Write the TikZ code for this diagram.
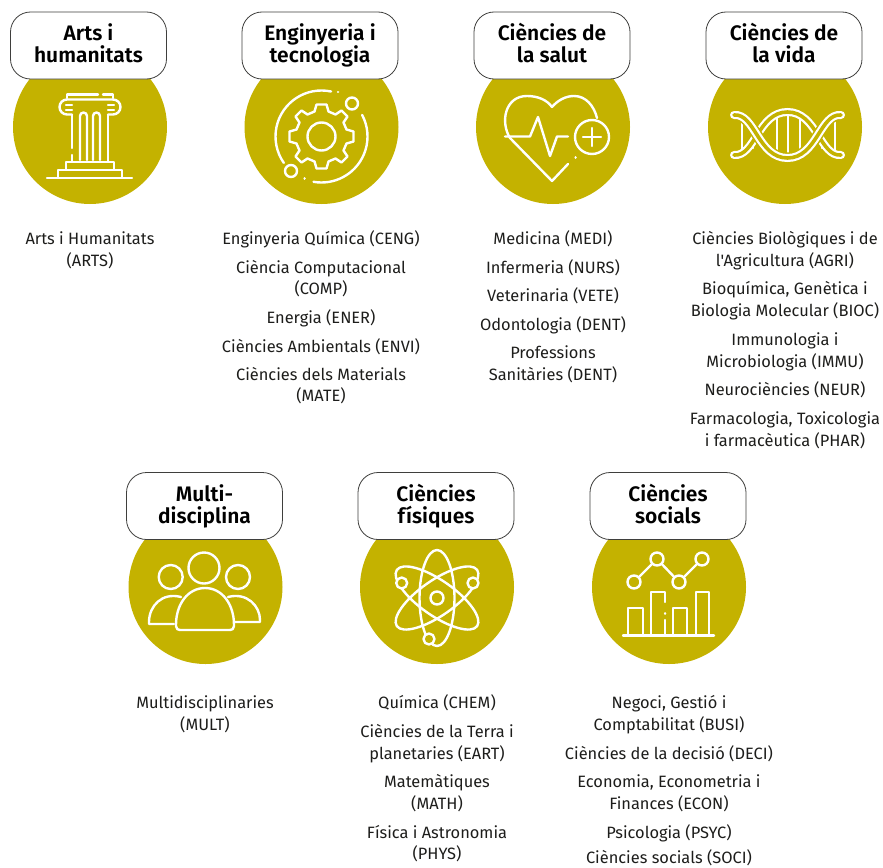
\documentclass[tikz,border=0pt]{standalone}
\usepackage{fontspec}
\setmainfont{Fira Sans}[Ligatures=TeXOff,BoldFont={Fira Sans SemiBold}]
\definecolor{gold}{HTML}{C4B200}
\definecolor{inkc}{HTML}{1D1D1B}
\newcommand\lineone[1]{\strut #1}
\newcommand\linetwo[2]{\strut #1\\\strut #2}
\newcommand\headtwo[2]{\rule{0pt}{18pt}#1\\#2\rule[-5.6pt]{0pt}{5.6pt}}
\tikzset{
 x=1pt,y=-1pt,
 disc/.style={circle,fill=gold,draw=none,minimum size=154pt,inner sep=0pt},
 headbox/.style={rounded corners=20pt,draw=inkc!85,line width=0.8pt,fill=white,minimum width=156pt,minimum height=67pt,align=center,inner sep=0pt,font=\fontsize{21}{22}\selectfont\bfseries,text=black},
 item/.style={align=center,inner sep=0pt,yshift=-2pt,font=\fontsize{16.4}{21.5}\selectfont,text=inkc},
 ico/.style={draw=white,line width=2.4pt,line cap=round,line join=round},
}
\begin{document}
\begin{tikzpicture}
\useasboundingbox (0,0) rectangle (883,867);
% discs
\node[disc] (d1) at (90,127) {};
\node[disc] (d2) at (321.5,127) {};
\node[disc] (d3) at (553,127) {};
\node[disc] (d4) at (785,127) {};
\node[disc] (d5) at (205.5,587) {};
\node[disc] (d6) at (437,587) {};
\node[disc] (d7) at (669,587) {};
% headings
\node[headbox] (h1) at (88.5,45.5) {\headtwo{Arts i}{humanitats}};
\node[headbox] (h2) at (320,45.5) {\headtwo{Enginyeria i}{tecnologia}};
\node[headbox] (h3) at (552,45.5) {\headtwo{Ciències de}{la salut}};
\node[headbox] (h4) at (784,45.5) {\headtwo{Ciències de}{la vida}};
\node[headbox] (h5) at (204.5,506) {\headtwo{Multi-}{disciplina}};
\node[headbox] (h6) at (436,506) {\headtwo{Ciències}{físiques}};
\node[headbox] (h7) at (668,506) {\headtwo{Ciències}{socials}};
% column icon
\draw[ico] (67,98)--(67,94.5)--(98,94.5) (103,94.5)--(113,94.5)--(113,98);
\draw[ico] (113,99.5)--(67,99.5) arc[start angle=270,end angle=90,radius=7.5]--(72,114.5);
\draw[ico] (66,105)--(72,105) (72,110)--(66,110);
\draw[ico] (113,99.5) arc[start angle=270,end angle=450,radius=7.5]--(108,114.5);
\draw[ico] (114,105)--(108,105) (108,110)--(114,110);
\draw[ico] (72,115)--(72,148) (72,155)--(72,161.5);
\draw[ico] (108,115)--(108,161.5);
\draw[ico] (80,160)--(80,116) arc[start angle=180,end angle=360,radius=3.5]--(87,160);
\draw[ico] (93,160)--(93,116) arc[start angle=180,end angle=360,radius=3.5]--(100,160);
\draw[ico] (66,169.5)--(66,162)--(114,162)--(114,169.5);
\draw[ico] (58,177.5)--(58,170)--(122,170)--(122,177.5);
\draw[ico] (47,178)--(132,178);
% gear icon
\begin{scope}[shift={(321.5,136.5)}]
\draw[ico] (0,0) circle[radius=14];
\draw[ico] plot[] coordinates {
 (-5,-32)(5,-32)(7,-25)(14,-22)(20,-26)(26,-20)(22,-14)(25,-7)(32,-5)(32,5)(25,7)(22,14)(26,20)(20,26)(14,22)(7,25)(5,32)(-5,32)(-7,25)(-14,22)(-20,26)(-26,20)(-22,14)(-25,7)(-32,5)(-32,-5)(-25,-7)(-22,-14)(-26,-20)(-20,-26)(-14,-22)(-7,-25)(-5,-32)};
\draw[ico] (-78:46) arc[start angle=-78,end angle=-215,radius=46];
\draw[ico] (-28:46) arc[start angle=-28,end angle=100,radius=46];
\end{scope}
\draw[ico] (352,103.5) circle[radius=6];
\draw[ico] (291,171) circle[radius=6];
\draw[ico] (338,92)--(338.1,92) (304.5,178.5)--(304.6,178.5);
% heart icon
\draw[ico] (510,138) .. controls (500,122) and (505,96) .. (527,96) .. controls (538,96) and (547,100) .. (552,107) .. controls (558,100) and (566,96) .. (574,96) .. controls (586,96) and (594,106) .. (597,118);
\draw[ico] (510,138)--(552,181)--(568,164);
\draw[ico] (575.5,157.5)--(575.6,157.5);
\draw[ico] (505,136.5)--(530,136.5)--(538,117)--(550,156)--(557,136.5)--(568,136.5);
\draw[ico,fill=gold] (592,137) circle[radius=17];
\draw[ico] (592,128)--(592,146) (583,137)--(601,137);
% dna icon
\draw[ico] (742,116)--(742,154) (753,122)--(753,148);
\draw[ico] (777,116)--(777,152) (788,112)--(788,158) (800,116)--(800,152);
\draw[ico] (822,122)--(822,148) (835,116)--(835,154);
\def\strandA{(734,115) .. controls (755,113) and (758,158) .. (787.5,158) .. controls (817,158) and (820,113) .. (841,115)}
\def\strandB{(734,155) .. controls (755,157) and (758,112) .. (787.5,112) .. controls (817,112) and (820,157) .. (841,155)}
\draw[white,line width=8pt,line cap=round] \strandB;
\draw[gold,line width=3.6pt,line cap=round] \strandB;
\draw[gold,line width=11pt] \strandA;
\draw[white,line width=8pt,line cap=round] \strandA;
\draw[gold,line width=3.6pt,line cap=round] \strandA;
% people icon
\draw[ico] (204,568) circle[radius=15.5];
\draw[ico] (170.7,577) circle[radius=12];
\draw[ico] (238,577) circle[radius=12];
\draw[ico] (181,597) .. controls (162,592) and (149,606) .. (149,622) -- (149,624) -- (174,624);
\draw[ico] (228,597) .. controls (247,592) and (260,606) .. (260,620) -- (260,622) -- (235,622);
\draw[ico] (176,625) .. controls (176,604) and (188,588) .. (205,588) .. controls (222,588) and (234,604) .. (234,625) -- (234,626) .. controls (234,629) and (232,630) .. (230,630) -- (180,630) .. controls (178,630) and (176,629) .. (176,626) -- cycle;
% atom icon
\begin{scope}[shift={(437,598)}]
\draw[ico] (0,0) ellipse[x radius=17.5,y radius=48];
\draw[ico,rotate=55] (0,0) ellipse[x radius=17.5,y radius=49];
\draw[ico,rotate=-55] (0,0) ellipse[x radius=17.5,y radius=49];
\draw[ico] (0,0) circle[radius=6.5];
\end{scope}
\draw[ico,fill=gold] (473,583) circle[radius=5.5];
\draw[ico,fill=gold] (401.7,583) circle[radius=5.5];
\draw[ico,fill=gold] (429,639) circle[radius=5.5];
% chart icon
\draw[ico] (634,582)--(657,559)--(679,582)--(702,559);
\draw[ico,fill=gold] (634,582) circle[radius=6.5];
\draw[ico,fill=gold] (657,559) circle[radius=6.5];
\draw[ico,fill=gold] (679,582) circle[radius=6.5];
\draw[ico,fill=gold] (702,559) circle[radius=6.5];
\draw[ico] (623,635.5)--(714,635.5);
\draw[ico] (628,635)--(628,608)--(643,608)--(643,635);
\draw[ico] (651,635)--(651,592)--(665,592)--(665,602) (665,620)--(665,635) (665,613.5)--(665.1,613.5);
\draw[ico] (673,635)--(673,608)--(687,608)--(687,635);
\draw[ico] (696,635)--(696,592)--(709,592)--(709,635);
% lists
\node[item] (a1) at (90,249) {\linetwo{Arts i Humanitats}{(ARTS)}};
\node[item] (b1) at (321,238) {\lineone{Enginyeria Química (CENG)}};
\node[item] (b2) at (321,277.5) {\linetwo{Ciència Computacional}{(COMP)}};
\node[item] (b3) at (321,317) {\lineone{Energia (ENER)}};
\node[item] (b4) at (321,346) {\lineone{Ciències Ambientals (ENVI)}};
\node[item] (b5) at (321,384.5) {\linetwo{Ciències dels Materials}{(MATE)}};
\node[item] (c1) at (553,238) {\lineone{Medicina (MEDI)}};
\node[item] (c2) at (553,267) {\lineone{Infermeria (NURS)}};
\node[item] (c3) at (553,295) {\lineone{Veterinaria (VETE)}};
\node[item] (c4) at (553,324) {\lineone{Odontologia (DENT)}};
\node[item] (c5) at (553,363) {\linetwo{Professions}{Sanitàries (DENT)}};
\node[item] (e1) at (785,249) {\linetwo{Ciències Biològiques i de}{l'Agricultura (AGRI)}};
\node[item] (e2) at (785,299) {\linetwo{Bioquímica, Genètica i}{Biologia Molecular (BIOC)}};
\node[item] (e3) at (785,350) {\linetwo{Immunologia i}{Microbiologia (IMMU)}};
\node[item] (e4) at (785,389) {\lineone{Neurociències (NEUR)}};
\node[item] (e5) at (785,429) {\linetwo{Farmacologia, Toxicologia}{i farmacèutica (PHAR)}};
\node[item] (f1) at (205,713) {\linetwo{Multidisciplinaries}{(MULT)}};
\node[item] (g1) at (437,702) {\lineone{Química (CHEM)}};
\node[item] (g2) at (437,742) {\linetwo{Ciències de la Terra i}{planetaries (EART)}};
\node[item] (g3) at (437,792) {\linetwo{Matemàtiques}{(MATH)}};
\node[item] (g4) at (437,842.5) {\linetwo{Física i Astronomia}{(PHYS)}};
\node[item] (k1) at (669,713) {\linetwo{Negoci, Gestió i}{Comptabilitat (BUSI)}};
\node[item] (k2) at (669,753) {\lineone{Ciències de la decisió (DECI)}};
\node[item] (k3) at (669,792) {\linetwo{Economia, Econometria i}{Finances (ECON)}};
\node[item] (k4) at (669,832) {\lineone{Psicologia (PSYC)}};
\node[item] (k5) at (669,857) {\lineone{Ciències socials (SOCI)}};
\end{tikzpicture}
\end{document}
